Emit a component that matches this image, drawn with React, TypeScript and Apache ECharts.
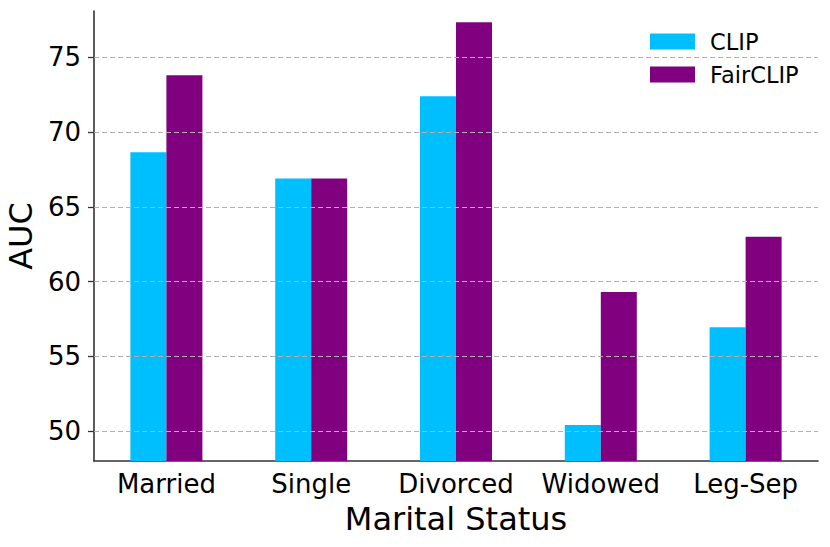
import React, { useEffect, useRef } from "react";
import * as echarts from "echarts";

const categories = ["Married", "Single", "Divorced", "Widowed", "Leg-Sep"];
const clipValues = [68.65, 66.9, 72.4, 50.4, 56.95];
const fairClipValues = [73.8, 66.9, 77.35, 59.3, 63.0];
const yTicks = [50, 55, 60, 65, 70, 75];

const FONT = "DejaVu Sans";

export default function App() {
  const ref = useRef<HTMLDivElement>(null);
  useEffect(() => {
    if (!ref.current) return;
    const chart = echarts.init(ref.current, null, { renderer: "svg" });
    chart.setOption({
      animation: false,
      backgroundColor: "#ffffff",
      textStyle: { fontFamily: FONT },
      grid: { left: 94, right: 12, top: 11, bottom: 86, containLabel: false, outerBoundsMode: "none" },
      legend: {
        orient: "vertical",
        left: 645,
        top: 25,
        itemWidth: 45,
        itemHeight: 16,
        itemGap: 10,
        icon: "rect",
        textStyle: { fontFamily: FONT, fontSize: 22.5, color: "#000", padding: [0, 0, 0, 10] },
        data: ["CLIP", "FairCLIP"],
      },
      xAxis: {
        type: "category",
        data: categories,
        name: "Marital Status",
        nameLocation: "middle",
        nameGap: 42,
        nameTextStyle: { fontFamily: FONT, fontSize: 32, color: "#000" },
        axisLine: { lineStyle: { color: "#333", width: 1.6 } },
        axisTick: { alignWithLabel: true, length: 6, lineStyle: { color: "#333", width: 1.3 } },
        axisLabel: { interval: 0, fontFamily: FONT, fontSize: 26, color: "#000", margin: 10 },
      },
      yAxis: {
        type: "value",
        min: 48,
        max: 78.1,
        name: "AUC",
        nameLocation: "middle",
        nameGap: 46,
        nameTextStyle: { fontFamily: FONT, fontSize: 32, color: "#000" },
        axisLine: { show: true, lineStyle: { color: "#333", width: 1.6 } },
        axisTick: { show: true, length: 6, customValues: yTicks, lineStyle: { color: "#333", width: 1.3 } },
        axisLabel: { fontFamily: FONT, fontSize: 26, color: "#000", margin: 13, customValues: yTicks },
        splitLine: { show: false },
      },
      series: [
        {
          name: "CLIP",
          type: "bar",
          data: clipValues,
          barWidth: 36,
          barGap: "0%",
          itemStyle: { color: "#00BFFF" },
          markLine: {
            silent: true,
            symbol: "none",
            label: { show: false },
            lineStyle: { color: "#b0b0b0", type: [5, 3], width: 1.1 },
            data: yTicks.map((v) => ({ yAxis: v })),
            z: 10,
          },
        },
        {
          name: "FairCLIP",
          type: "bar",
          data: fairClipValues,
          barWidth: 36,
          barGap: "0%",
          itemStyle: { color: "#800080" },
        },
      ],
    });
    return () => chart.dispose();
  }, []);
  return <div ref={ref} style={{ width: 830, height: 547, position: "absolute", left: 0, top: 0 }} />;
}
